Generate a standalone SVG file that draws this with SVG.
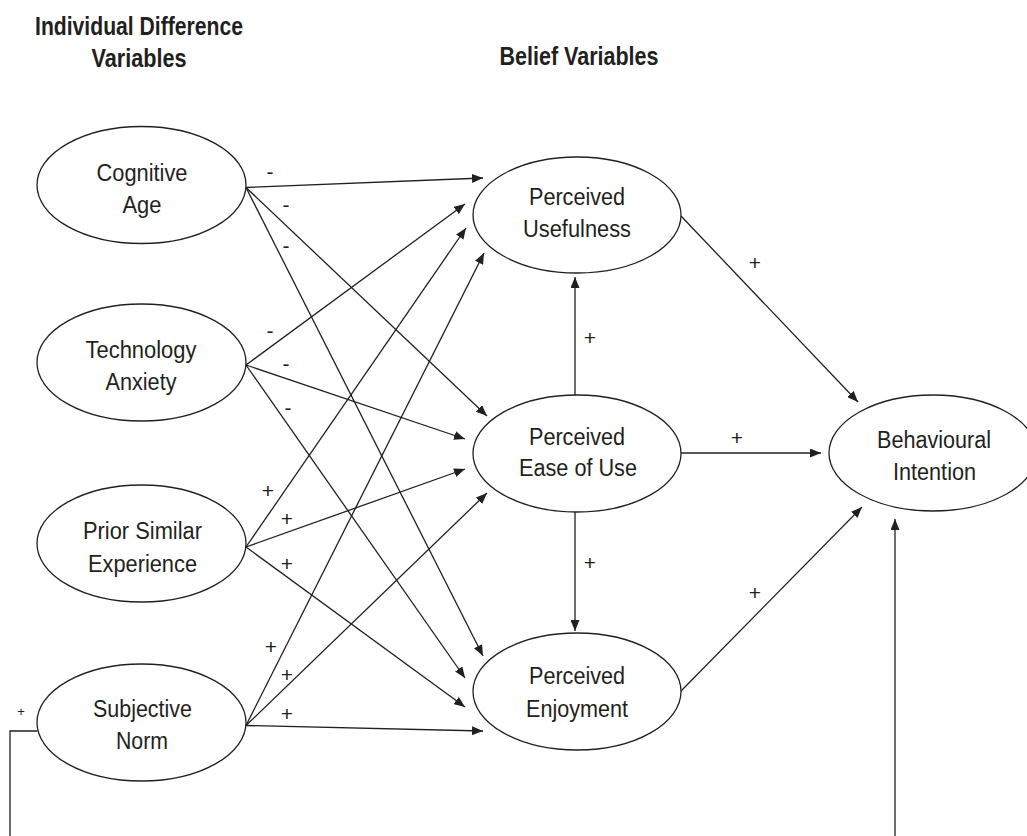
<svg xmlns="http://www.w3.org/2000/svg" width="1027" height="836" viewBox="0 0 1027 836">
  <defs>
    <marker id="arrow" markerUnits="userSpaceOnUse" markerWidth="11" markerHeight="9" viewBox="0 0 11 9" refX="11" refY="4.5" orient="auto">
      <path d="M0,0 L11,4.5 L0,9 z" fill="#231f20"/>
    </marker>
  </defs>
  <style>
    .node ellipse { fill: #ffffff; stroke: #231f20; stroke-width: 1.3; }
    .node text { font-family: "Liberation Sans", Arial, sans-serif; font-size: 23.5px; fill: #231f20; }
    .hdr { font-family: "Liberation Sans", Arial, sans-serif; font-size: 25px; font-weight: bold; fill: #231f20; }
    .edges line, .edges path { stroke: #231f20; stroke-width: 1.3; fill: none; }
    .edges .arr { marker-end: url(#arrow); }
    .sign { font-family: "Liberation Sans", Arial, sans-serif; font-size: 21px; fill: #231f20; text-anchor: middle; }
    .sign.small { font-size: 13px; }
  </style>

  <rect width="1027" height="836" fill="#ffffff"/>

  <!-- column headings -->
  <g id="headings">
    <text class="hdr" x="35" y="35" textLength="208" lengthAdjust="spacingAndGlyphs">Individual Difference</text>
    <text class="hdr" x="91.5" y="67" textLength="95" lengthAdjust="spacingAndGlyphs">Variables</text>
    <text class="hdr" x="499.5" y="65" textLength="159" lengthAdjust="spacingAndGlyphs">Belief Variables</text>
  </g>

  <!-- paths between constructs -->
  <g id="connectors" class="edges">
    <!-- Cognitive Age -->
    <line class="arr" x1="246" y1="187.5" x2="483" y2="178"/>
    <line class="arr" x1="246" y1="187.5" x2="487" y2="416"/>
    <line class="arr" x1="246" y1="187.5" x2="483" y2="656"/>
    <!-- Technology Anxiety -->
    <line class="arr" x1="246" y1="365" x2="465" y2="204"/>
    <line class="arr" x1="246" y1="365" x2="465" y2="439"/>
    <line class="arr" x1="246" y1="365" x2="465" y2="678"/>
    <!-- Prior Similar Experience -->
    <line class="arr" x1="246" y1="547" x2="466" y2="228"/>
    <line class="arr" x1="246" y1="547" x2="465" y2="469"/>
    <line class="arr" x1="246" y1="547" x2="465" y2="707"/>
    <!-- Subjective Norm -->
    <line class="arr" x1="246" y1="725.5" x2="484" y2="253"/>
    <line class="arr" x1="246" y1="725.5" x2="487" y2="493"/>
    <line class="arr" x1="246" y1="725.5" x2="483" y2="731"/>
    <!-- belief variables -->
    <line class="arr" x1="575" y1="395" x2="575" y2="277"/>
    <line class="arr" x1="575" y1="512" x2="575" y2="631"/>
    <line class="arr" x1="681" y1="216" x2="858" y2="402"/>
    <line class="arr" x1="681" y1="453" x2="821" y2="453"/>
    <line class="arr" x1="681" y1="691" x2="862" y2="507"/>
    <!-- subjective norm to intention (routed below) -->
    <path d="M37.5,731 H10 V836"/>
    <line class="arr" x1="895" y1="836" x2="895" y2="519"/>
  </g>

  <!-- path signs -->
  <g id="signs">
    <text class="sign" x="270" y="178.7">-</text>
    <text class="sign" x="286" y="211.7">-</text>
    <text class="sign" x="286" y="252.7">-</text>
    <text class="sign" x="270" y="337.7">-</text>
    <text class="sign" x="286" y="370.7">-</text>
    <text class="sign" x="288" y="414.7">-</text>
    <text class="sign" x="268" y="498">+</text>
    <text class="sign" x="287" y="526">+</text>
    <text class="sign" x="287" y="571">+</text>
    <text class="sign" x="271" y="654">+</text>
    <text class="sign" x="287" y="682">+</text>
    <text class="sign" x="287" y="721">+</text>
    <text class="sign small" x="21" y="715.5">+</text>
    <text class="sign" x="590" y="345">+</text>
    <text class="sign" x="590" y="570">+</text>
    <text class="sign" x="755" y="270">+</text>
    <text class="sign" x="737" y="445">+</text>
    <text class="sign" x="755" y="600">+</text>
  </g>

  <!-- individual difference variables -->
  <g id="cognitive-age" class="node">
    <ellipse cx="141.5" cy="185" rx="104.5" ry="58.5"/>
    <text x="96.5" y="181" textLength="91" lengthAdjust="spacingAndGlyphs">Cognitive</text>
    <text x="122.5" y="213" textLength="39" lengthAdjust="spacingAndGlyphs">Age</text>
  </g>
  <g id="technology-anxiety" class="node">
    <ellipse cx="141.5" cy="362.5" rx="104.5" ry="58.5"/>
    <text x="85.5" y="358" textLength="111" lengthAdjust="spacingAndGlyphs">Technology</text>
    <text x="105.5" y="389.5" textLength="71" lengthAdjust="spacingAndGlyphs">Anxiety</text>
  </g>
  <g id="prior-similar-experience" class="node">
    <ellipse cx="141.5" cy="543.5" rx="104.5" ry="58.5"/>
    <text x="83" y="539" textLength="119" lengthAdjust="spacingAndGlyphs">Prior Similar</text>
    <text x="88" y="571.5" textLength="109" lengthAdjust="spacingAndGlyphs">Experience</text>
  </g>
  <g id="subjective-norm" class="node">
    <ellipse cx="141.5" cy="722.5" rx="104.5" ry="58.5"/>
    <text x="93" y="716.5" textLength="99" lengthAdjust="spacingAndGlyphs">Subjective</text>
    <text x="116" y="748.5" textLength="52" lengthAdjust="spacingAndGlyphs">Norm</text>
  </g>

  <!-- belief variables -->
  <g id="perceived-usefulness" class="node">
    <ellipse cx="577" cy="215" rx="104" ry="58"/>
    <text x="529" y="205" textLength="96" lengthAdjust="spacingAndGlyphs">Perceived</text>
    <text x="523" y="237" textLength="108" lengthAdjust="spacingAndGlyphs">Usefulness</text>
  </g>
  <g id="perceived-ease-of-use" class="node">
    <ellipse cx="577" cy="453.5" rx="104" ry="58.5"/>
    <text x="529" y="445" textLength="96" lengthAdjust="spacingAndGlyphs">Perceived</text>
    <text x="519" y="476" textLength="118" lengthAdjust="spacingAndGlyphs">Ease of Use</text>
  </g>
  <g id="perceived-enjoyment" class="node">
    <ellipse cx="577" cy="691.5" rx="104" ry="58.5"/>
    <text x="529" y="684" textLength="96" lengthAdjust="spacingAndGlyphs">Perceived</text>
    <text x="526" y="716.5" textLength="102" lengthAdjust="spacingAndGlyphs">Enjoyment</text>
  </g>

  <!-- outcome -->
  <g id="behavioural-intention" class="node">
    <ellipse cx="933" cy="453" rx="104" ry="58"/>
    <text x="877" y="448" textLength="114" lengthAdjust="spacingAndGlyphs">Behavioural</text>
    <text x="893" y="480" textLength="83" lengthAdjust="spacingAndGlyphs">Intention</text>
  </g>
</svg>
